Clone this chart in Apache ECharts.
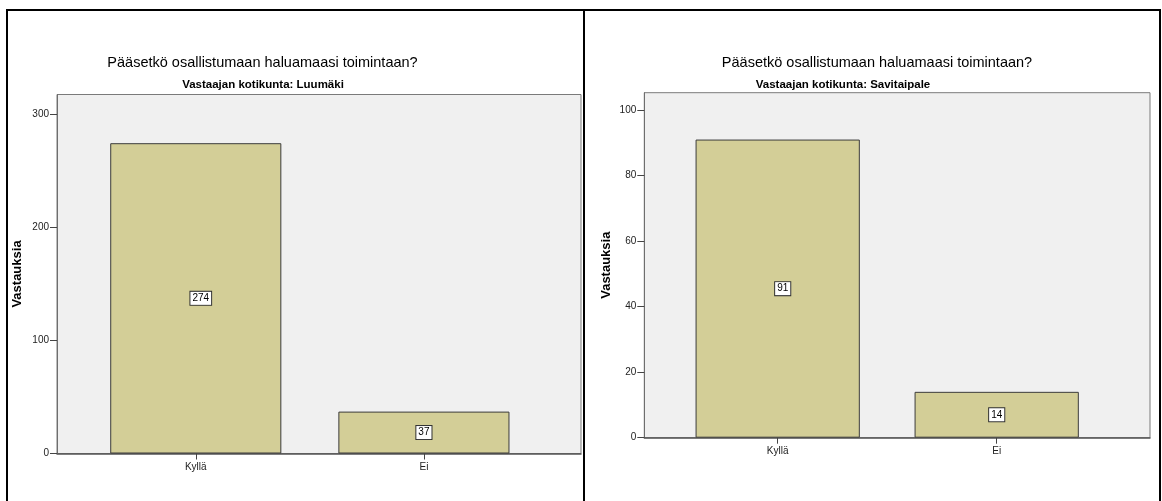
<!DOCTYPE html>
<html>
<head>
<meta charset="utf-8">
<script src="https://cdn.jsdelivr.net/npm/echarts@6/dist/echarts.min.js"></script>
<style>
  html, body { margin: 0; padding: 0; background: #ffffff; }
  #chart { width: 1162px; height: 501px; }
</style>
</head>
<body>
<div id="chart"></div>
<script>
const categories = ['Kyllä', 'Ei'];
const luumakiValues = [274, 37];
const savitaipaleValues = [91, 14];
const luumakiTicks = [0, 100, 200, 300];
const savitaipaleTicks = [0, 20, 40, 60, 80, 100];
const mainTitle = 'Pääsetkö osallistumaan haluamaasi toimintaan?';
const subTitles = ['Vastaajan kotikunta: Luumäki', 'Vastaajan kotikunta: Savitaipale'];
const yName = 'Vastauksia';

const FONT = '"Liberation Sans", Arial, sans-serif';
const BAR_FILL = '#d3ce97';
const BAR_EDGE = '#3c3c3c';

const chart = echarts.init(document.getElementById('chart'), null, { renderer: 'canvas' });

function frameYAxis(gridIndex, max, ticks, nameGap) {
  return {
    gridIndex, type: 'value', min: 0, max: max,
    name: yName, nameLocation: 'middle', nameRotate: 90, nameGap: nameGap,
    nameTextStyle: { fontFamily: FONT, fontWeight: 'bold', fontSize: 13, color: '#000' },
    axisLine: { show: true, lineStyle: { color: '#6e6e6e', width: 1 } },
    axisTick: { show: true, inside: false, length: 7, customValues: ticks, lineStyle: { color: '#444', width: 1 } },
    axisLabel: { show: true, margin: 8, customValues: ticks, fontFamily: FONT, fontSize: 10, color: '#222' },
    splitLine: { show: false }
  };
}
function hiddenYAxis(gridIndex, max) {
  return { gridIndex, type: 'value', min: 0, max: max, show: false, splitLine: { show: false } };
}
function frameXAxis(gridIndex) {
  return {
    gridIndex, type: 'category', data: [''],
    axisLine: { show: true, lineStyle: { color: '#555', width: 1.5 } },
    axisTick: { show: false }, axisLabel: { show: false }, splitLine: { show: false }
  };
}
function barXAxis(gridIndex) {
  return {
    gridIndex, type: 'category', data: categories,
    axisLine: { show: false },
    axisTick: { show: true, alignWithLabel: true, length: 6, lineStyle: { color: '#444', width: 1 } },
    axisLabel: { margin: 9, fontFamily: FONT, fontSize: 10, color: '#222' },
    splitLine: { show: false }
  };
}
function barSeries(idx, values) {
  return {
    type: 'bar', xAxisIndex: idx, yAxisIndex: idx, barWidth: '75%',
    itemStyle: { color: BAR_FILL, borderColor: BAR_EDGE, borderWidth: 1 },
    data: values.map((v, i) => ({ value: v, label: { offset: [i === 0 ? 5 : 0, 0] } })),
    label: {
      show: true, position: 'inside', fontFamily: FONT, fontSize: 10, color: '#000',
      backgroundColor: '#ffffff', borderColor: '#333', borderWidth: 1, padding: [2, 2, 1, 2]
    },
    silent: true
  };
}

function titleItem(text, left, top, size, weight) {
  return { text, left, top, textAlign: 'center', padding: 0,
    textStyle: { fontFamily: FONT, fontSize: size, fontWeight: weight, color: '#000' } };
}

const option = {
  animation: false,
  backgroundColor: '#ffffff',
  title: [
    titleItem(mainTitle, 262.5, 55.5, 14.5, 'normal'),
    titleItem(subTitles[0], 263, 79, 11.5, 'bold'),
    titleItem(mainTitle, 877, 55.5, 14.5, 'normal'),
    titleItem(subTitles[1], 843, 79, 11.5, 'bold')
  ],
  grid: [
    { left: 57, top: 94.5, width: 524, height: 359, show: true, backgroundColor: '#f0f0f0', borderColor: '#7a7a7a', borderWidth: 1, containLabel: false },
    { left: 81.7, top: 94.5, width: 456.3, height: 359, show: false, containLabel: false },
    { left: 644.3, top: 92.7, width: 505.7, height: 345, show: true, backgroundColor: '#f0f0f0', borderColor: '#7a7a7a', borderWidth: 1, containLabel: false },
    { left: 668.2, top: 92.7, width: 438, height: 345, show: false, containLabel: false }
  ],
  xAxis: [frameXAxis(0), barXAxis(1), frameXAxis(2), barXAxis(3)],
  yAxis: [
    frameYAxis(0, 317, luumakiTicks, 33),
    hiddenYAxis(1, 317),
    frameYAxis(2, 105.3, savitaipaleTicks, 31),
    hiddenYAxis(3, 105.3)
  ],
  series: [
    barSeries(1, luumakiValues),
    barSeries(3, savitaipaleValues)
  ],
  graphic: [
    { type: 'rect', shape: { x: 7, y: 10, width: 577, height: 530 }, style: { fill: 'none', stroke: '#000', lineWidth: 2 }, silent: true, z: 100 },
    { type: 'rect', shape: { x: 584, y: 10, width: 576, height: 530 }, style: { fill: 'none', stroke: '#000', lineWidth: 2 }, silent: true, z: 100 }
  ]
};
chart.setOption(option);
</script>
</body>
</html>
